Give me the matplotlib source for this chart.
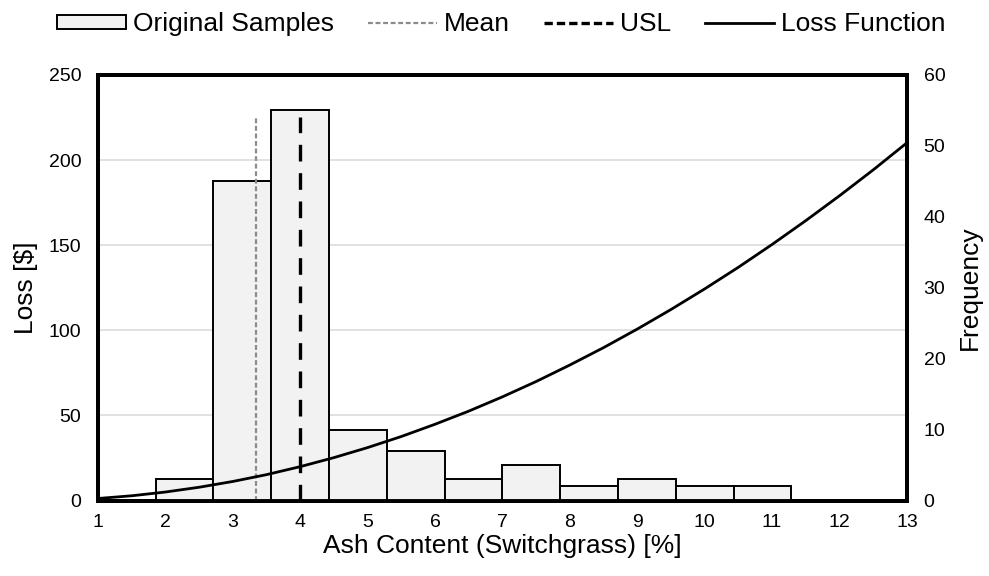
import numpy as np
import matplotlib
matplotlib.use("Agg")
import matplotlib.pyplot as plt
from matplotlib.patches import Patch
from matplotlib.lines import Line2D

plt.rcParams['font.family'] = ['Liberation Sans', 'DejaVu Sans']

# histogram of ash content samples
bin_edges = np.linspace(1, 13, 15)
freq = [0, 3, 45, 55, 10, 7, 3, 5, 2, 3, 2, 2, 0, 0]

# loss function
loss_x = [1, 1.5, 2, 2.5, 3, 3.5, 4, 4.5, 5, 5.5, 6, 6.5, 7, 7.5, 8, 8.5, 9,
          9.5, 10, 10.5, 11, 11.5, 12, 12.5, 13]
loss_y = [1.2, 2.8, 5.0, 7.8, 11.2, 15.2, 19.9, 25.2, 31.1, 37.6, 44.8, 52.5,
          60.9, 69.9, 79.6, 89.8, 100.7, 112.2, 124.3, 137.0, 150.4, 164.4,
          179.0, 194.2, 210.1]

mean_val = 3.35
usl_val = 4.0
ref_top = 225

fig = plt.figure(figsize=(9.89, 5.76), dpi=100)
ax1 = fig.add_axes([0.099, 0.131, 0.818, 0.739])
ax2 = ax1.twinx()

ax1.set_xlim(1, 13)
ax1.set_ylim(0, 250)
ax2.set_ylim(0, 60)
ax1.set_xticks(range(1, 14))
ax1.set_yticks([0, 50, 100, 150, 200, 250])
ax2.set_yticks(range(0, 61, 10))
ax1.grid(axis='y', color='#d9d9d9', lw=1.1)
ax1.set_axisbelow(True)

ax2.bar(bin_edges[:-1], freq, width=np.diff(bin_edges), align='edge',
        color='#f2f2f2', edgecolor='black', lw=1.4, zorder=1)

ax2.plot(loss_x, loss_y, color='black', lw=2.0, transform=ax1.transData,
         zorder=3, clip_on=False)
ax2.plot([mean_val, mean_val], [0, ref_top], color='#8c8c8c', lw=1.6,
         dashes=(2.2, 1.2), transform=ax1.transData, zorder=2)
ax2.plot([usl_val, usl_val], [0, ref_top], color='black', lw=2.4,
         dashes=(5, 3.5), transform=ax1.transData, zorder=2)

for ax in (ax1, ax2):
    for s in ax.spines.values():
        s.set_linewidth(2.8)
        s.set_color('black')
    ax.tick_params(length=0, labelsize=14, pad=12)
ax1.tick_params(axis='x', pad=10)

ax1.set_xlabel('Ash Content (Switchgrass) [%]', fontsize=19, labelpad=2)
ax1.set_ylabel('Loss [$]', fontsize=19, labelpad=8)
ax2.set_ylabel('Frequency', fontsize=19, labelpad=9)

handles = [
    Patch(facecolor='#f2f2f2', edgecolor='black', lw=1.4),
    Line2D([], [], color='#8c8c8c', lw=1.6, dashes=(2.2, 1.2)),
    Line2D([], [], color='black', lw=2.4, dashes=(2.5, 1.2)),
    Line2D([], [], color='black', lw=2.0),
]
labels = ['Original Samples', 'Mean', 'USL', 'Loss Function']
fig.legend(handles, labels, loc='upper center', bbox_to_anchor=(0.507, 1.02),
           ncol=4, frameon=False, fontsize=19, handlelength=2.6,
           handleheight=0.45, columnspacing=1.3, handletextpad=0.27)

fig.savefig('out.png', dpi=100)
